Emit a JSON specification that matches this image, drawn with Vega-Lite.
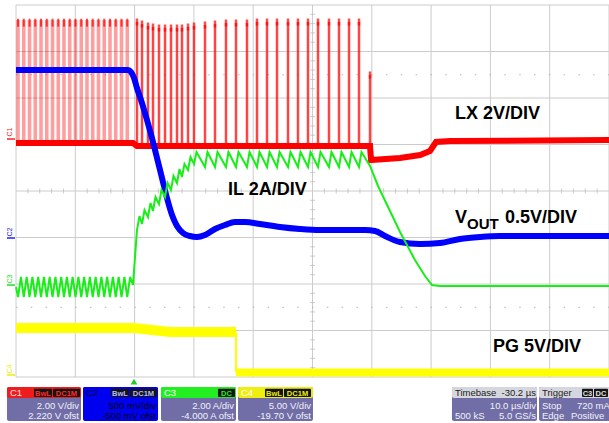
{
  "$schema": "https://vega.github.io/schema/vega-lite/v6.json",
  "width": 593,
  "height": 372,
  "autosize": {"type": "none"},
  "padding": {"left": 16, "top": 5, "right": 0, "bottom": 46},
  "background": "#ffffff",
  "config": {"view": {"stroke": null}, "text": {"font": "Liberation Sans"}},
  "datasets": {
    "gridX": [{"v":0,"a":0,"b":8},{"v":1,"a":0,"b":8},{"v":2,"a":0,"b":8},{"v":3,"a":0,"b":8},{"v":4,"a":0,"b":8},{"v":5,"a":0,"b":8},{"v":6,"a":0,"b":8},{"v":7,"a":0,"b":8},{"v":8,"a":0,"b":8},{"v":9,"a":0,"b":8},{"v":10,"a":0,"b":8}],
    "gridY": [{"v":0,"a":0,"b":10},{"v":1,"a":0,"b":10},{"v":2,"a":0,"b":10},{"v":3,"a":0,"b":10},{"v":4,"a":0,"b":10},{"v":5,"a":0,"b":10},{"v":6,"a":0,"b":10},{"v":7,"a":0,"b":10},{"v":8,"a":0,"b":10}],
    "dots": [{"v":1.5,"a":0,"b":10},{"v":6.5,"a":0,"b":10}],
    "tickX": [{"v":0.2,"c":4},{"v":0.4,"c":4},{"v":0.6,"c":4},{"v":0.8,"c":4},{"v":1.2,"c":4},{"v":1.4,"c":4},{"v":1.6,"c":4},{"v":1.8,"c":4},{"v":2.2,"c":4},{"v":2.4,"c":4},{"v":2.6,"c":4},{"v":2.8,"c":4},{"v":3.2,"c":4},{"v":3.4,"c":4},{"v":3.6,"c":4},{"v":3.8,"c":4},{"v":4.2,"c":4},{"v":4.4,"c":4},{"v":4.6,"c":4},{"v":4.8,"c":4},{"v":5.2,"c":4},{"v":5.4,"c":4},{"v":5.6,"c":4},{"v":5.8,"c":4},{"v":6.2,"c":4},{"v":6.4,"c":4},{"v":6.6,"c":4},{"v":6.8,"c":4},{"v":7.2,"c":4},{"v":7.4,"c":4},{"v":7.6,"c":4},{"v":7.8,"c":4},{"v":8.2,"c":4},{"v":8.4,"c":4},{"v":8.6,"c":4},{"v":8.8,"c":4},{"v":9.2,"c":4},{"v":9.4,"c":4},{"v":9.6,"c":4},{"v":9.8,"c":4}],
    "tickY": [{"v":0.2,"c":5},{"v":0.4,"c":5},{"v":0.6,"c":5},{"v":0.8,"c":5},{"v":1.2,"c":5},{"v":1.4,"c":5},{"v":1.6,"c":5},{"v":1.8,"c":5},{"v":2.2,"c":5},{"v":2.4,"c":5},{"v":2.6,"c":5},{"v":2.8,"c":5},{"v":3.2,"c":5},{"v":3.4,"c":5},{"v":3.6,"c":5},{"v":3.8,"c":5},{"v":4.2,"c":5},{"v":4.4,"c":5},{"v":4.6,"c":5},{"v":4.8,"c":5},{"v":5.2,"c":5},{"v":5.4,"c":5},{"v":5.6,"c":5},{"v":5.8,"c":5},{"v":6.2,"c":5},{"v":6.4,"c":5},{"v":6.6,"c":5},{"v":6.8,"c":5},{"v":7.2,"c":5},{"v":7.4,"c":5},{"v":7.6,"c":5},{"v":7.8,"c":5}],
    "lxPre": [{"x":0.034,"lo":5.032,"hi":7.677,"top":7.62},{"x":0.131,"lo":5.032,"hi":7.677,"top":7.62},{"x":0.228,"lo":5.032,"hi":7.677,"top":7.62},{"x":0.325,"lo":5.032,"hi":7.677,"top":7.62},{"x":0.422,"lo":5.032,"hi":7.677,"top":7.62},{"x":0.519,"lo":5.032,"hi":7.677,"top":7.62},{"x":0.616,"lo":5.032,"hi":7.677,"top":7.62},{"x":0.713,"lo":5.032,"hi":7.677,"top":7.62},{"x":0.809,"lo":5.032,"hi":7.677,"top":7.62},{"x":0.906,"lo":5.032,"hi":7.677,"top":7.62},{"x":1.003,"lo":5.032,"hi":7.677,"top":7.62},{"x":1.100,"lo":5.032,"hi":7.677,"top":7.62},{"x":1.197,"lo":5.032,"hi":7.677,"top":7.62},{"x":1.294,"lo":5.032,"hi":7.677,"top":7.62},{"x":1.391,"lo":5.032,"hi":7.677,"top":7.62},{"x":1.488,"lo":5.032,"hi":7.677,"top":7.62},{"x":1.585,"lo":5.032,"hi":7.677,"top":7.62},{"x":1.682,"lo":5.032,"hi":7.677,"top":7.62},{"x":1.779,"lo":5.032,"hi":7.677,"top":7.62},{"x":1.876,"lo":5.032,"hi":7.677,"top":7.62}],
    "lxPost": [{"x":2.040,"lo":4.968,"hi":7.634},{"x":2.125,"lo":4.968,"hi":7.591},{"x":2.226,"lo":4.968,"hi":7.548},{"x":2.310,"lo":4.968,"hi":7.527},{"x":2.411,"lo":4.968,"hi":7.505},{"x":2.513,"lo":4.968,"hi":7.505},{"x":2.614,"lo":4.968,"hi":7.505},{"x":2.715,"lo":4.968,"hi":7.505},{"x":2.799,"lo":4.968,"hi":7.505},{"x":2.901,"lo":4.968,"hi":7.527},{"x":3.002,"lo":4.968,"hi":7.548},{"x":3.187,"lo":4.968,"hi":7.570},{"x":3.356,"lo":4.968,"hi":7.591},{"x":3.541,"lo":4.968,"hi":7.613},{"x":3.710,"lo":4.968,"hi":7.613},{"x":3.895,"lo":4.968,"hi":7.613},{"x":4.064,"lo":4.968,"hi":7.634},{"x":4.233,"lo":4.968,"hi":7.634},{"x":4.401,"lo":4.968,"hi":7.634},{"x":4.587,"lo":4.968,"hi":7.634},{"x":4.755,"lo":4.968,"hi":7.634},{"x":4.924,"lo":4.968,"hi":7.634},{"x":5.093,"lo":4.968,"hi":7.634},{"x":5.278,"lo":4.968,"hi":7.634},{"x":5.447,"lo":4.968,"hi":7.634},{"x":5.616,"lo":4.968,"hi":7.634},{"x":5.784,"lo":4.968,"hi":7.634},{"x":5.970,"lo":4.968,"hi":6.495}],
    "lxBase": [{"x":0,"y":5.032},{"x":1.973,"y":5.032},{"x":2.040,"y":4.968},{"x":5.970,"y":4.968},{"x":5.987,"y":4.667},{"x":6.476,"y":4.710},{"x":6.813,"y":4.774},{"x":6.981,"y":4.860},{"x":7.083,"y":5.054},{"x":7.319,"y":5.075},{"x":10,"y":5.097}],
    "vout": [{"x":0,"y":6.602},{"x":1.889,"y":6.602},{"x":1.939,"y":6.559},{"x":1.990,"y":6.430},{"x":2.040,"y":6.215},{"x":2.125,"y":5.892},{"x":2.209,"y":5.527},{"x":2.293,"y":5.140},{"x":2.378,"y":4.710},{"x":2.462,"y":4.280},{"x":2.546,"y":3.849},{"x":2.631,"y":3.484},{"x":2.715,"y":3.247},{"x":2.816,"y":3.097},{"x":2.934,"y":3.032},{"x":3.052,"y":3.011},{"x":3.187,"y":3.054},{"x":3.356,"y":3.183},{"x":3.524,"y":3.269},{"x":3.693,"y":3.333},{"x":3.862,"y":3.333},{"x":4.115,"y":3.290},{"x":4.452,"y":3.226},{"x":4.789,"y":3.183},{"x":5.126,"y":3.161},{"x":5.885,"y":3.161},{"x":6.054,"y":3.140},{"x":6.223,"y":3.032},{"x":6.476,"y":2.903},{"x":6.813,"y":2.860},{"x":7.150,"y":2.882},{"x":7.487,"y":2.968},{"x":7.825,"y":3.011},{"x":8.162,"y":3.032},{"x":10,"y":3.032}],
    "il": [{"x":0,"y":1.935},
      {"x":0.034,"y":1.720},{"x":0.083,"y":2.151},{"x":0.131,"y":1.720},{"x":0.180,"y":2.151},{"x":0.228,"y":1.720},{"x":0.277,"y":2.151},{"x":0.325,"y":1.720},{"x":0.374,"y":2.151},{"x":0.422,"y":1.720},{"x":0.471,"y":2.151},{"x":0.519,"y":1.720},{"x":0.568,"y":2.151},{"x":0.616,"y":1.720},{"x":0.665,"y":2.151},{"x":0.713,"y":1.720},{"x":0.762,"y":2.151},{"x":0.809,"y":1.720},{"x":0.858,"y":2.151},{"x":0.906,"y":1.720},{"x":0.955,"y":2.151},{"x":1.003,"y":1.720},{"x":1.052,"y":2.151},{"x":1.100,"y":1.720},{"x":1.149,"y":2.151},{"x":1.197,"y":1.720},{"x":1.246,"y":2.151},{"x":1.294,"y":1.720},{"x":1.343,"y":2.151},{"x":1.391,"y":1.720},{"x":1.440,"y":2.151},{"x":1.488,"y":1.720},{"x":1.537,"y":2.151},{"x":1.585,"y":1.720},{"x":1.634,"y":2.151},{"x":1.682,"y":1.720},{"x":1.731,"y":2.151},{"x":1.779,"y":1.720},{"x":1.828,"y":2.151},{"x":1.876,"y":1.720},{"x":1.925,"y":2.151},
      {"x":1.973,"y":1.978},{"x":2.040,"y":3.161},{"x":2.083,"y":3.462},{"x":2.125,"y":3.290},{"x":2.167,"y":3.591},{"x":2.226,"y":3.441},{"x":2.268,"y":3.742},{"x":2.310,"y":3.570},{"x":2.352,"y":3.871},{"x":2.411,"y":3.720},{"x":2.454,"y":4.022},{"x":2.513,"y":3.871},{"x":2.555,"y":4.172},{"x":2.614,"y":4.022},{"x":2.656,"y":4.323},{"x":2.715,"y":4.172},{"x":2.757,"y":4.473},{"x":2.799,"y":4.301},{"x":2.841,"y":4.581},{"x":2.901,"y":4.452},{"x":2.943,"y":4.731},{"x":3.002,"y":4.581},{"x":3.044,"y":4.839},
      {"x":3.187,"y":4.516},{"x":3.229,"y":4.839},{"x":3.356,"y":4.516},{"x":3.398,"y":4.839},{"x":3.541,"y":4.516},{"x":3.583,"y":4.839},{"x":3.710,"y":4.516},{"x":3.752,"y":4.839},{"x":3.895,"y":4.516},{"x":3.938,"y":4.839},{"x":4.064,"y":4.516},{"x":4.106,"y":4.839},{"x":4.233,"y":4.516},{"x":4.275,"y":4.839},{"x":4.401,"y":4.516},{"x":4.444,"y":4.839},{"x":4.587,"y":4.516},{"x":4.629,"y":4.839},{"x":4.755,"y":4.516},{"x":4.798,"y":4.839},{"x":4.924,"y":4.516},{"x":4.966,"y":4.839},{"x":5.093,"y":4.516},{"x":5.135,"y":4.839},{"x":5.278,"y":4.516},{"x":5.320,"y":4.839},{"x":5.447,"y":4.516},{"x":5.489,"y":4.839},{"x":5.616,"y":4.516},{"x":5.658,"y":4.839},{"x":5.784,"y":4.516},{"x":5.826,"y":4.839},
      {"x":5.970,"y":4.538},{"x":6.105,"y":4.108},{"x":6.307,"y":3.570},{"x":6.476,"y":3.118},{"x":6.728,"y":2.516},{"x":6.897,"y":2.172},{"x":7.015,"y":1.978},{"x":7.150,"y":1.957},{"x":10,"y":1.957}],
    "pgHi": [{"x":0,"y":1.054},{"x":1.990,"y":1.054},{"x":2.597,"y":0.968},{"x":3.710,"y":0.968}],
    "pgLo": [{"x":3.710,"y":0.097},{"x":10,"y":0.097}],
    "pgEdge": [{"x":3.710,"y":0.968,"y2":0.097}],
    "trig": [{"x":1.990,"y":-0.1}],
    "labels": [{"x":7.403,"y":5.548,"t":"LX 2V/DIV"},{"x":3.575,"y":3.914,"t":"IL 2A/DIV"},{"x":7.403,"y":3.312,"t":"V"},{"x":8.246,"y":3.312,"t":"0.5V/DIV"},{"x":8.044,"y":0.538,"t":"PG 5V/DIV"}],
    "sub": [{"x":7.605,"y":3.183,"t":"OUT"}],
    "chm": [{"ch":"C1","x":-0.101,"y":5.269,"ly":5.118,"lx1":-0.152,"lx2":-0.017},{"ch":"C2","x":-0.101,"y":3.118,"ly":2.989,"lx1":-0.152,"lx2":-0.017},{"ch":"C3","x":-0.101,"y":2.108,"ly":1.978,"lx1":-0.152,"lx2":-0.017},{"ch":"C4","x":-0.101,"y":0.172,"ly":0.043,"lx1":-0.152,"lx2":-0.017}],
    "boxes": [{"ch":"C1","x1":-0.152,"x2":1.096,"y1":-0.215,"y2":-0.946,"hy2":-0.452},{"ch":"C2","x1":1.130,"x2":2.395,"y1":-0.215,"y2":-0.946,"hy2":-0.452},{"ch":"C3","x1":2.445,"x2":3.710,"y1":-0.215,"y2":-0.946,"hy2":-0.452},{"ch":"C4","x1":3.744,"x2":5.008,"y1":-0.215,"y2":-0.946,"hy2":-0.452},{"ch":"TB","x1":7.352,"x2":8.786,"y1":-0.215,"y2":-0.946,"hy2":-0.452},{"ch":"TR","x1":8.820,"x2":10.3,"y1":-0.215,"y2":-0.946,"hy2":-0.452}],
    "badges": [{"ch":"C1","x1":0.304,"x2":0.607,"xm":0.455,"y1":-0.250,"y2":-0.430,"ty":-0.405,"t":"BwL"},{"ch":"C1","x1":0.624,"x2":1.079,"xm":0.851,"y1":-0.250,"y2":-0.430,"ty":-0.405,"t":"DC1M"},{"ch":"C2","x1":1.602,"x2":1.906,"xm":1.754,"y1":-0.250,"y2":-0.430,"ty":-0.405,"t":"BwL"},{"ch":"C2","x1":1.922,"x2":2.378,"xm":2.150,"y1":-0.250,"y2":-0.430,"ty":-0.405,"t":"DC1M"},{"ch":"C3","x1":3.406,"x2":3.693,"xm":3.550,"y1":-0.250,"y2":-0.430,"ty":-0.405,"t":"DC"},{"ch":"C4","x1":4.199,"x2":4.503,"xm":4.351,"y1":-0.250,"y2":-0.430,"ty":-0.405,"t":"BwL"},{"ch":"C4","x1":4.519,"x2":4.975,"xm":4.747,"y1":-0.250,"y2":-0.430,"ty":-0.405,"t":"DC1M"},{"ch":"TR","x1":9.545,"x2":9.730,"xm":9.637,"y1":-0.250,"y2":-0.430,"ty":-0.405,"t":"C3"},{"ch":"TR","x1":9.747,"x2":9.983,"xm":9.865,"y1":-0.250,"y2":-0.430,"ty":-0.405,"t":"DC"}],
    "hdrL": [{"ch":"C1","x":-0.101,"y":-0.409,"t":"C1"},{"ch":"C2","x":1.180,"y":-0.409,"t":"C2"},{"ch":"C3","x":2.496,"y":-0.409,"t":"C3"},{"ch":"C4","x":3.794,"y":-0.409,"t":"C4"},{"ch":"TB","x":7.403,"y":-0.409,"t":"Timebase"},{"ch":"TR","x":8.870,"y":-0.409,"t":"Trigger"}],
    "hdrR": [{"ch":"TB","x":8.769,"y":-0.409,"t":"-30.2 µs"}],
    "bodyR": [{"ch":"C1","x":1.062,"y":-0.688,"t":"2.00 V/div"},{"ch":"C1","x":1.062,"y":-0.903,"t":"2.220 V ofst"},{"ch":"C2","x":2.361,"y":-0.688,"t":"500 mV/div"},{"ch":"C2","x":2.361,"y":-0.903,"t":"-500 mV ofst"},{"ch":"C3","x":3.676,"y":-0.688,"t":"2.00 A/div"},{"ch":"C3","x":3.676,"y":-0.903,"t":"-4.000 A ofst"},{"ch":"C4","x":4.975,"y":-0.688,"t":"5.00 V/div"},{"ch":"C4","x":4.975,"y":-0.903,"t":"-19.70 V ofst"},{"ch":"TB","x":8.769,"y":-0.688,"t":"10.0 µs/div"},{"ch":"TB","x":8.769,"y":-0.903,"t":"5.0 GS/s"}],
    "bodyL": [{"ch":"TB","x":7.403,"y":-0.903,"t":"500 kS"},{"ch":"TR","x":8.870,"y":-0.688,"t":"Stop"},{"ch":"TR","x":8.870,"y":-0.903,"t":"Edge"},{"ch":"TR","x":9.460,"y":-0.688,"t":"720 mA"},{"ch":"TR","x":9.359,"y":-0.903,"t":"Positive"}]
  },
  "layer": [
    {"data": {"name": "gridX"}, "mark": {"type": "rule", "color": "#cccccc", "strokeWidth": 1},
     "encoding": {"x": {"field": "v", "type": "quantitative", "scale": {"domain": [0, 10], "nice": false}, "axis": null},
                  "y": {"field": "a", "type": "quantitative", "scale": {"domain": [0, 8], "nice": false}, "axis": null},
                  "y2": {"field": "b"}}},
    {"data": {"name": "gridY"}, "mark": {"type": "rule", "color": "#cccccc", "strokeWidth": 1},
     "encoding": {"y": {"field": "v", "type": "quantitative", "scale": {"domain": [0, 8], "nice": false}, "axis": null},
                  "x": {"field": "a", "type": "quantitative", "scale": {"domain": [0, 10], "nice": false}, "axis": null},
                  "x2": {"field": "b"}}},
    {"data": {"name": "dots"}, "mark": {"type": "rule", "color": "#b4b4b4", "strokeWidth": 1.2, "strokeDash": [1.5, 13.3]},
     "encoding": {"y": {"field": "v", "type": "quantitative", "scale": {"domain": [0, 8], "nice": false}, "axis": null},
                  "x": {"field": "a", "type": "quantitative", "scale": {"domain": [0, 10], "nice": false}, "axis": null},
                  "x2": {"field": "b"}}},
    {"data": {"name": "tickX"}, "mark": {"type": "tick", "orient": "vertical", "color": "#b8b8b8", "size": 5, "thickness": 1},
     "encoding": {"x": {"field": "v", "type": "quantitative", "scale": {"domain": [0, 10], "nice": false}, "axis": null},
                  "y": {"field": "c", "type": "quantitative", "scale": {"domain": [0, 8], "nice": false}, "axis": null}}},
    {"data": {"name": "tickY"}, "mark": {"type": "tick", "orient": "horizontal", "color": "#b8b8b8", "size": 5, "thickness": 1},
     "encoding": {"y": {"field": "v", "type": "quantitative", "scale": {"domain": [0, 8], "nice": false}, "axis": null},
                  "x": {"field": "c", "type": "quantitative", "scale": {"domain": [0, 10], "nice": false}, "axis": null}}},
    {"data": {"name": "pgHi"}, "mark": {"type": "line", "color": "#ffff00", "strokeWidth": 10},
     "encoding": {"x": {"field": "x", "type": "quantitative", "scale": {"domain": [0, 10], "nice": false}, "axis": null},
                  "y": {"field": "y", "type": "quantitative", "scale": {"domain": [0, 8], "nice": false}, "axis": null}}},
    {"data": {"name": "pgLo"}, "mark": {"type": "line", "color": "#ffff00", "strokeWidth": 8},
     "encoding": {"x": {"field": "x", "type": "quantitative", "scale": {"domain": [0, 10], "nice": false}, "axis": null},
                  "y": {"field": "y", "type": "quantitative", "scale": {"domain": [0, 8], "nice": false}, "axis": null}}},
    {"data": {"name": "pgEdge"}, "mark": {"type": "rule", "color": "#ffff00", "strokeWidth": 2},
     "encoding": {"x": {"field": "x", "type": "quantitative", "scale": {"domain": [0, 10], "nice": false}, "axis": null},
                  "y": {"field": "y", "type": "quantitative", "scale": {"domain": [0, 8], "nice": false}, "axis": null},
                  "y2": {"field": "y2"}}},
    {"data": {"name": "lxPre"}, "mark": {"type": "rule", "color": "#ff0000", "opacity": 0.38, "strokeWidth": 3.6},
     "encoding": {"x": {"field": "x", "type": "quantitative", "scale": {"domain": [0, 10], "nice": false}, "axis": null},
                  "y": {"field": "lo", "type": "quantitative", "scale": {"domain": [0, 8], "nice": false}, "axis": null},
                  "y2": {"field": "hi"}}},
    {"data": {"name": "lxPre"}, "mark": {"type": "tick", "orient": "vertical", "color": "#ff0000", "size": 8, "thickness": 2},
     "encoding": {"x": {"field": "x", "type": "quantitative", "scale": {"domain": [0, 10], "nice": false}, "axis": null},
                  "y": {"field": "top", "type": "quantitative", "scale": {"domain": [0, 8], "nice": false}, "axis": null}}},
    {"data": {"name": "lxPost"}, "mark": {"type": "rule", "color": "#ff0000", "opacity": 0.18, "strokeWidth": 4},
     "encoding": {"x": {"field": "x", "type": "quantitative", "scale": {"domain": [0, 10], "nice": false}, "axis": null},
                  "y": {"field": "lo", "type": "quantitative", "scale": {"domain": [0, 8], "nice": false}, "axis": null},
                  "y2": {"field": "hi"}}},
    {"data": {"name": "lxPost"}, "mark": {"type": "rule", "color": "#ff0000", "opacity": 0.9, "strokeWidth": 1.5},
     "encoding": {"x": {"field": "x", "type": "quantitative", "scale": {"domain": [0, 10], "nice": false}, "axis": null},
                  "y": {"field": "lo", "type": "quantitative", "scale": {"domain": [0, 8], "nice": false}, "axis": null},
                  "y2": {"field": "hi"}}},
    {"data": {"name": "lxPost"}, "mark": {"type": "tick", "orient": "vertical", "color": "#ff0000", "size": 7, "thickness": 2.5},
     "encoding": {"x": {"field": "x", "type": "quantitative", "scale": {"domain": [0, 10], "nice": false}, "axis": null},
                  "y": {"field": "hi", "type": "quantitative", "scale": {"domain": [0, 8], "nice": false}, "axis": null}}},
    {"data": {"name": "lxBase"}, "mark": {"type": "line", "color": "#ff0000", "strokeWidth": 6},
     "encoding": {"x": {"field": "x", "type": "quantitative", "scale": {"domain": [0, 10], "nice": false}, "axis": null},
                  "y": {"field": "y", "type": "quantitative", "scale": {"domain": [0, 8], "nice": false}, "axis": null}}},
    {"data": {"name": "vout"}, "mark": {"type": "line", "color": "#0000ff", "strokeWidth": 6, "interpolate": "monotone"},
     "encoding": {"x": {"field": "x", "type": "quantitative", "scale": {"domain": [0, 10], "nice": false}, "axis": null},
                  "y": {"field": "y", "type": "quantitative", "scale": {"domain": [0, 8], "nice": false}, "axis": null}}},
    {"data": {"name": "il"}, "mark": {"type": "line", "color": "#18ee18", "strokeWidth": 2},
     "encoding": {"x": {"field": "x", "type": "quantitative", "scale": {"domain": [0, 10], "nice": false}, "axis": null},
                  "y": {"field": "y", "type": "quantitative", "scale": {"domain": [0, 8], "nice": false}, "axis": null}}},
    {"data": {"name": "labels"}, "mark": {"type": "text", "font": "Liberation Sans", "fontWeight": "bold", "fontSize": 18, "align": "left", "baseline": "alphabetic", "color": "#000000"},
     "encoding": {"x": {"field": "x", "type": "quantitative", "scale": {"domain": [0, 10], "nice": false}, "axis": null},
                  "y": {"field": "y", "type": "quantitative", "scale": {"domain": [0, 8], "nice": false}, "axis": null},
                  "text": {"field": "t"}}},
    {"data": {"name": "sub"}, "mark": {"type": "text", "font": "Liberation Sans", "fontWeight": "bold", "fontSize": 15, "align": "left", "baseline": "alphabetic", "color": "#000000"},
     "encoding": {"x": {"field": "x", "type": "quantitative", "scale": {"domain": [0, 10], "nice": false}, "axis": null},
                  "y": {"field": "y", "type": "quantitative", "scale": {"domain": [0, 8], "nice": false}, "axis": null},
                  "text": {"field": "t"}}},
    {"data": {"name": "chm"}, "mark": {"type": "text", "fontSize": 7, "angle": 270, "align": "center", "baseline": "middle"},
     "encoding": {"x": {"field": "x", "type": "quantitative", "scale": {"domain": [0, 10], "nice": false}, "axis": null},
                  "y": {"field": "y", "type": "quantitative", "scale": {"domain": [0, 8], "nice": false}, "axis": null},
                  "text": {"field": "ch"},
                  "color": {"field": "ch", "type": "nominal", "legend": null, "scale": {"domain": ["C1","C2","C3","C4"], "range": ["#ff2020","#2020ff","#22dd22","#eeee00"]}}}},
    {"data": {"name": "chm"}, "mark": {"type": "rule", "strokeWidth": 1.5},
     "encoding": {"x": {"field": "lx1", "type": "quantitative", "scale": {"domain": [0, 10], "nice": false}, "axis": null},
                  "x2": {"field": "lx2"},
                  "y": {"field": "ly", "type": "quantitative", "scale": {"domain": [0, 8], "nice": false}, "axis": null},
                  "color": {"field": "ch", "type": "nominal", "legend": null, "scale": {"domain": ["C1","C2","C3","C4"], "range": ["#ff2020","#2020ff","#22dd22","#eeee00"]}}}},
    {"data": {"name": "trig"}, "mark": {"type": "point", "shape": "triangle-up", "filled": true, "size": 45, "color": "#22cc22", "opacity": 1},
     "encoding": {"x": {"field": "x", "type": "quantitative", "scale": {"domain": [0, 10], "nice": false}, "axis": null},
                  "y": {"field": "y", "type": "quantitative", "scale": {"domain": [0, 8], "nice": false}, "axis": null}}},
    {"data": {"name": "boxes"}, "mark": {"type": "rect", "cornerRadius": 2},
     "encoding": {"x": {"field": "x1", "type": "quantitative", "scale": {"domain": [0, 10], "nice": false}, "axis": null},
                  "x2": {"field": "x2"},
                  "y": {"field": "y1", "type": "quantitative", "scale": {"domain": [0, 8], "nice": false}, "axis": null},
                  "y2": {"field": "y2"},
                  "color": {"field": "ch", "type": "nominal", "legend": null, "scale": {"domain": ["C1","C2","C3","C4","TB","TR"], "range": ["#716da6","#0000f0","#716da6","#716da6","#716da6","#716da6"]}}}},
    {"data": {"name": "boxes"}, "mark": {"type": "rect", "cornerRadius": 2},
     "encoding": {"x": {"field": "x1", "type": "quantitative", "scale": {"domain": [0, 10], "nice": false}, "axis": null},
                  "x2": {"field": "x2"},
                  "y": {"field": "y1", "type": "quantitative", "scale": {"domain": [0, 8], "nice": false}, "axis": null},
                  "y2": {"field": "hy2"},
                  "color": {"field": "ch", "type": "nominal", "legend": null, "scale": {"domain": ["C1","C2","C3","C4","TB","TR"], "range": ["#ee1c1c","#0000f0","#22ee22","#eeee10","#d6d6de","#d6d6de"]}}}},
    {"data": {"name": "badges"}, "mark": {"type": "rect", "color": "#141414", "cornerRadius": 1},
     "encoding": {"x": {"field": "x1", "type": "quantitative", "scale": {"domain": [0, 10], "nice": false}, "axis": null},
                  "x2": {"field": "x2"},
                  "y": {"field": "y1", "type": "quantitative", "scale": {"domain": [0, 8], "nice": false}, "axis": null},
                  "y2": {"field": "y2"}}},
    {"data": {"name": "badges"}, "mark": {"type": "text", "fontSize": 7.5, "fontWeight": "bold", "align": "center", "baseline": "alphabetic"},
     "encoding": {"x": {"field": "xm", "type": "quantitative", "scale": {"domain": [0, 10], "nice": false}, "axis": null},
                  "y": {"field": "ty", "type": "quantitative", "scale": {"domain": [0, 8], "nice": false}, "axis": null},
                  "text": {"field": "t"},
                  "color": {"field": "ch", "type": "nominal", "legend": null, "scale": {"domain": ["C1","C2","C3","C4","TR"], "range": ["#ff2a2a","#b8b8ff","#22ee22","#eeee10","#e0e0e0"]}}}},
    {"data": {"name": "hdrL"}, "mark": {"type": "text", "fontSize": 9.5, "align": "left", "baseline": "alphabetic"},
     "encoding": {"x": {"field": "x", "type": "quantitative", "scale": {"domain": [0, 10], "nice": false}, "axis": null},
                  "y": {"field": "y", "type": "quantitative", "scale": {"domain": [0, 8], "nice": false}, "axis": null},
                  "text": {"field": "t"},
                  "color": {"field": "ch", "type": "nominal", "legend": null, "scale": {"domain": ["C1","C2","C3","C4","TB","TR"], "range": ["#ffe6e6","#000040","#ffffff","#ffffff","#222222","#222222"]}}}},
    {"data": {"name": "hdrR"}, "mark": {"type": "text", "fontSize": 9.5, "align": "right", "baseline": "alphabetic", "color": "#222222"},
     "encoding": {"x": {"field": "x", "type": "quantitative", "scale": {"domain": [0, 10], "nice": false}, "axis": null},
                  "y": {"field": "y", "type": "quantitative", "scale": {"domain": [0, 8], "nice": false}, "axis": null},
                  "text": {"field": "t"}}},
    {"data": {"name": "bodyR"}, "mark": {"type": "text", "fontSize": 9.5, "align": "right", "baseline": "alphabetic"},
     "encoding": {"x": {"field": "x", "type": "quantitative", "scale": {"domain": [0, 10], "nice": false}, "axis": null},
                  "y": {"field": "y", "type": "quantitative", "scale": {"domain": [0, 8], "nice": false}, "axis": null},
                  "text": {"field": "t"},
                  "color": {"field": "ch", "type": "nominal", "legend": null, "scale": {"domain": ["C1","C2","C3","C4","TB"], "range": ["#f2f2fa","#000000","#f2f2fa","#f2f2fa","#f2f2fa"]}}}},
    {"data": {"name": "bodyL"}, "mark": {"type": "text", "fontSize": 9.5, "align": "left", "baseline": "alphabetic", "color": "#f2f2fa"},
     "encoding": {"x": {"field": "x", "type": "quantitative", "scale": {"domain": [0, 10], "nice": false}, "axis": null},
                  "y": {"field": "y", "type": "quantitative", "scale": {"domain": [0, 8], "nice": false}, "axis": null},
                  "text": {"field": "t"}}}
  ],
  "resolve": {"scale": {"color": "independent"}}
}
